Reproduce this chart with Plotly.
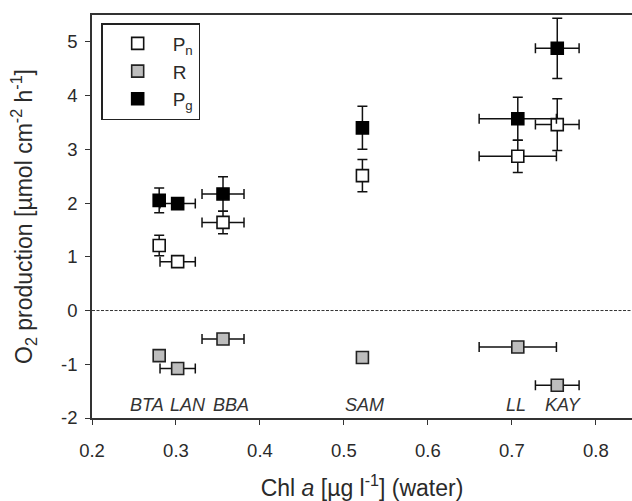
import plotly.graph_objects as go

# Sites and chlorophyll a in the water column
sites = ["BTA", "LAN", "BBA", "SAM", "LL", "KAY"]
chl = [0.280, 0.302, 0.356, 0.522, 0.707, 0.754]
chl_err = [0.0, 0.021, 0.025, 0.0, 0.046, 0.026]

# O2 production (µmol cm-2 h-1)
pn = [1.21, 0.91, 1.64, 2.51, 2.87, 3.46]
pn_err = [0.19, 0.06, 0.21, 0.30, 0.30, 0.48]
resp = [-0.84, -1.08, -0.53, -0.875, -0.68, -1.39]
resp_err = [0.05, 0.05, 0.05, 0.05, 0.05, 0.05]
pg = [2.05, 1.99, 2.17, 3.40, 3.57, 4.88]
pg_err = [0.23, 0.10, 0.32, 0.40, 0.40, 0.56]

# Site label positions
label_x = [0.265, 0.314, 0.366, 0.525, 0.705, 0.762]
label_y = -1.76

x_ticks = [0.2, 0.3, 0.4, 0.5, 0.6, 0.7, 0.8]
y_ticks = [-2, -1, 0, 1, 2, 3, 4, 5]
y_tick_text = ["-2", "-1", "0", "1", "2", "3", "4", "5"]

x_range = [0.2, 0.843]
y_range = [-2, 5.5]

FONT = "Liberation Sans, Arial, sans-serif"
TXT = "#2a2a2a"


def err(vals):
    return dict(type="data", array=vals, visible=True, color="#111",
                thickness=1.5, width=5)


series = [
    ("P<sub>n</sub>", pn, pn_err, "white", "#111"),
    ("R", resp, resp_err, "#bdbdbd", "#222"),
    ("P<sub>g</sub>", pg, pg_err, "black", "black"),
]

fig = go.Figure()
for name, vals, verr, fill, edge in series:
    fig.add_trace(go.Scatter(
        x=chl, y=vals, mode="markers", name=name,
        error_x=err(chl_err), error_y=err(verr),
        marker=dict(symbol="square", size=12, color=fill,
                    line=dict(color=edge, width=1.6)),
    ))

# zero line
fig.add_shape(type="line", xref="paper", x0=0, x1=1, yref="y", y0=0, y1=0,
              line=dict(color="#333", width=1, dash="3px,1.5px"))

for s, lx in zip(sites, label_x):
    fig.add_annotation(x=lx, y=label_y, text=f"<i>{s}</i>", showarrow=False,
                       font=dict(family=FONT, size=18, color="#333"))

fig.update_layout(
    width=632, height=501,
    margin=dict(l=92, r=0, t=15, b=83),
    paper_bgcolor="white", plot_bgcolor="white",
    font=dict(family=FONT, size=18, color=TXT),
    showlegend=True,
    legend=dict(x=0.017, y=0.98, xanchor="left", yanchor="top",
                bordercolor="#222", borderwidth=1.5, bgcolor="white",
                font=dict(family=FONT, size=19, color=TXT),
                itemwidth=60, tracegroupgap=0),
)
fig.update_xaxes(
    range=x_range, tickvals=x_ticks, ticktext=[f"{v:.1f}" for v in x_ticks],
    showgrid=False, zeroline=False, showline=True, linecolor="#333",
    linewidth=1.5, mirror=True, ticks="outside", ticklen=5, tickcolor="#333",
    tickfont=dict(size=18.5), ticklabelstandoff=10,
    title=dict(text="Chl <i>a</i> [µg l<sup>-1</sup>] (water)",
               font=dict(size=23), standoff=20),
)
fig.update_yaxes(
    range=y_range, tickvals=y_ticks, ticktext=y_tick_text,
    showgrid=False, zeroline=False, showline=True, linecolor="#333",
    linewidth=1.5, ticks="outside", ticklen=5, tickcolor="#333",
    tickfont=dict(size=18.5), ticklabelstandoff=4,
    title=dict(text="O<sub>2</sub> production [µmol cm<sup>-2</sup> h<sup>-1</sup>]",
               font=dict(size=23), standoff=22),
)

fig.write_html("out.html")
